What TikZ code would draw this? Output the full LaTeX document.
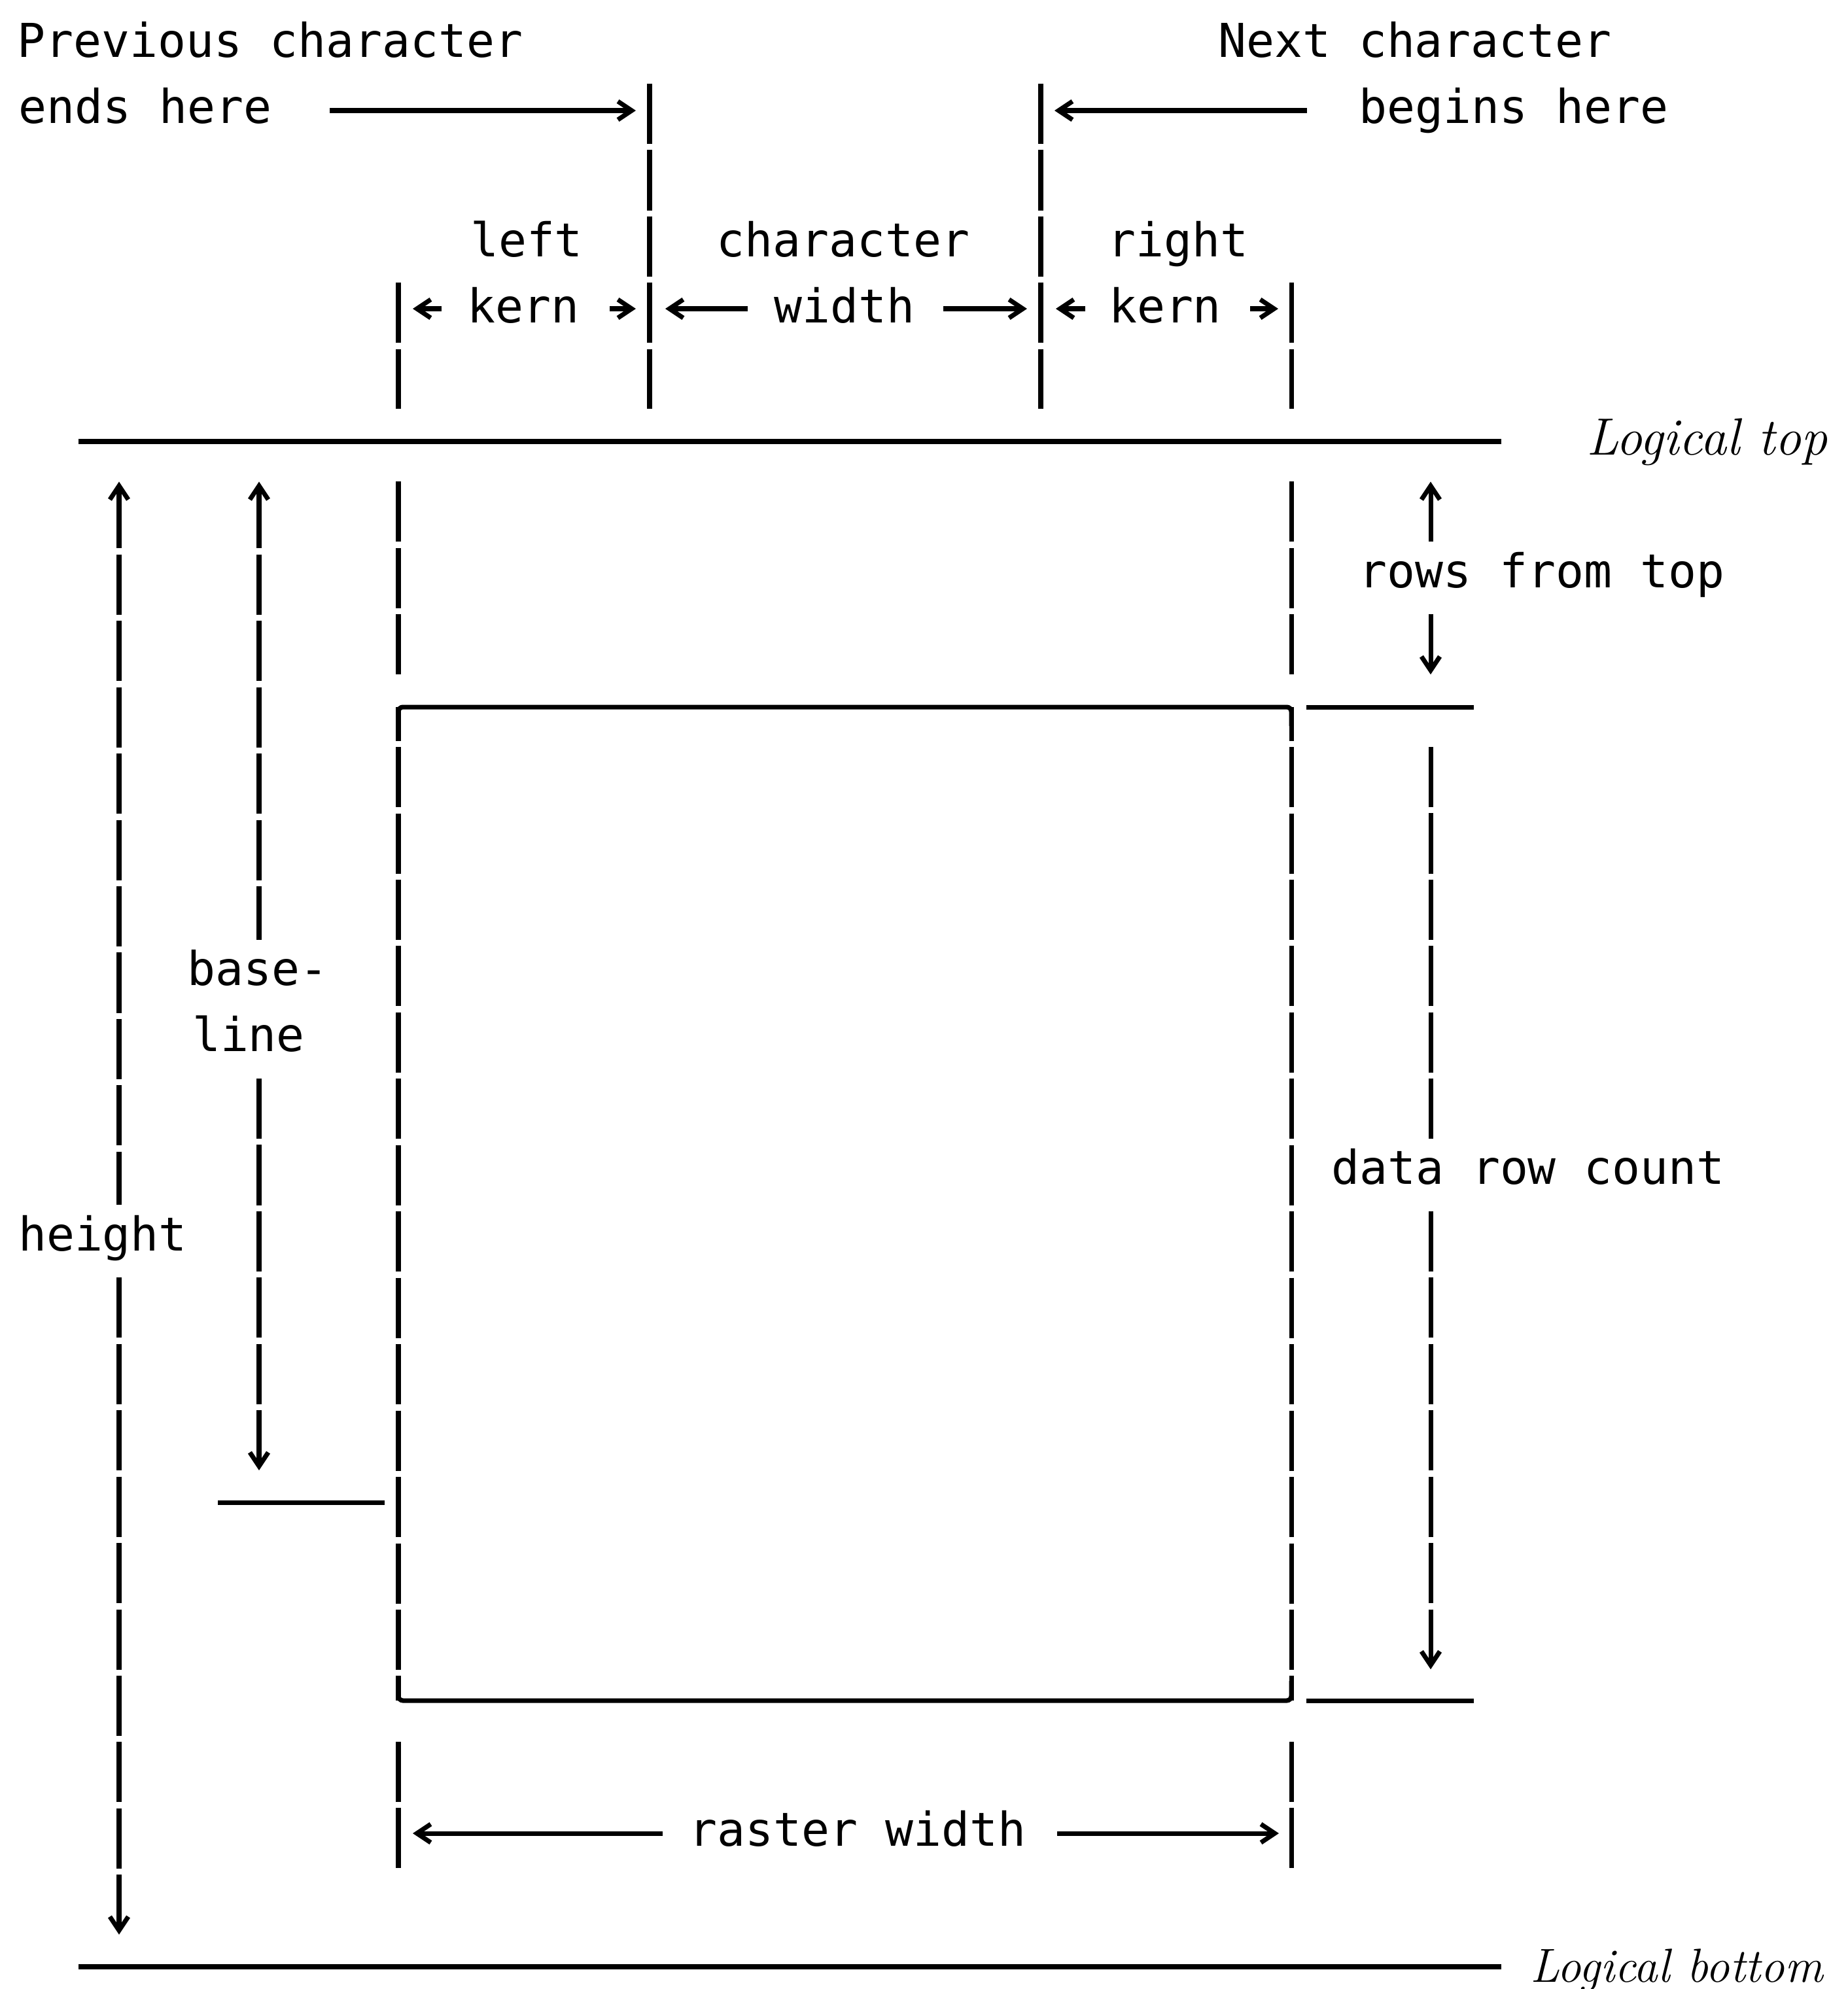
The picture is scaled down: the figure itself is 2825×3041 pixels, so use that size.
\documentclass[tikz,border=0pt]{standalone}
\usepackage{fontspec}
\newfontfamily\plotfont{DejaVu Sans Mono}
\usetikzlibrary{arrows.meta}

\begin{document}
\begin{tikzpicture}[x=0.01cm, y=-0.01cm, line width=2pt, >={Straight Barb[length=6pt,width=8pt]}]
        % Styles
        \tikzstyle{lbl} = [font=\plotfont\fontsize{20.3}{24}\selectfont, inner sep=0pt, anchor=base]
        \tikzstyle{ital} = [font=\fontsize{22.8}{27}\selectfont\itshape, inner sep=0pt, anchor=base west]
        \tikzstyle{dimdash} = [dash pattern=on 0.92cm off 0.094cm]
        \tikzstyle{logline} = [line width=2.3pt]

        \useasboundingbox (0,0) rectangle (2825,3041);

        % --- Labels ---
        \node [lbl] (prev1) at (413,87) {Previous character};
        \node [lbl] (prev2) at (222,188) {ends here};
        \node [lbl] (next1) at (2163,87) {Next character};
        \node [lbl] (next2) at (2314,188) {begins here};
        \node [lbl] (lk1) at (805,392) {left};
        \node [lbl] (lk2) at (800,493) {kern};
        \node [lbl] (cw1) at (1289,392) {character};
        \node [lbl] (cw2) at (1291,493) {width};
        \node [lbl] (rk1) at (1801,392) {right};
        \node [lbl] (rk2) at (1781,493) {kern};
        \node [lbl] (rft) at (2357,898) {rows from top};
        \node [lbl] (drc) at (2336,1810) {data row count};
        \node [lbl] (ht) at (157,1912) {height};
        \node [lbl] (bl1) at (394,1506) {base-};
        \node [lbl] (bl2) at (380,1607) {line};
        \node [lbl] (rw) at (1311,2822) {raster width};
        \node [ital] (ltop) at (2422,695) {Logical top};
        \node [ital, font=\fontsize{20.8}{25}\selectfont\itshape] (lbot) at (2336,3030) {Logical bottom};

        % --- Logical top and bottom ---
        \coordinate (lt0) at (120,675);
        \coordinate (lt1) at (2295,675);
        \coordinate (lb0) at (120,3007);
        \coordinate (lb1) at (2295,3007);
        \draw [logline] (lt0) -- (lt1);
        \draw [logline] (lb0) -- (lb1);

        % --- Character cell edges ---
        \foreach \x in {993,1591}
            \draw [dimdash] (\x,128) -- (\x,625);
        \foreach \x in {609,1974} {
            \draw [dimdash] (\x,432.2) -- (\x,625);
            \draw [dimdash] (\x,736.4) -- (\x,1031);
            \draw [dimdash] (\x,2663) -- (\x,2856.4);
        }

        % --- Raster box ---
        \coordinate (box0) at (609,1081);
        \coordinate (box1) at (1974,2600);
        \draw [rounded corners=2pt] (609,1110) -- (box0) -- (1974,1081) -- (1974,1110);
        \draw [rounded corners=2pt] (609,2570) -- (609,2600) -- (box1) -- (1974,2570);
        \draw [dimdash, dash phase=0.404cm] (box0) -- (609,2600);
        \draw [dimdash, dash phase=0.404cm] (1974,1081) -- (box1);

        % Tick marks
        \coordinate (bt0) at (333,2297);
        \coordinate (bt1) at (588,2297);
        \coordinate (tt0) at (1997,1081);
        \coordinate (tt1) at (2253,1081);
        \coordinate (bb0) at (1997,2600);
        \coordinate (bb1) at (2253,2600);
        \draw (bt0) -- (bt1);
        \draw (tt0) -- (tt1);
        \draw (bb0) -- (bb1);

        % --- Top arrows ---
        \coordinate (pe0) at (504,169);
        \coordinate (pe1) at (972,169);
        \coordinate (nb0) at (1998,169);
        \coordinate (nb1) at (1612,169);
        \draw [->] (pe0) -- (pe1);
        \draw [->] (nb0) -- (nb1);

        % Kern and width arrows
        \coordinate (lkL) at (631,472);
        \coordinate (lkR) at (972,472);
        \coordinate (cwL) at (1017,472);
        \coordinate (cwR) at (1570,472);
        \coordinate (rkL) at (1614,472);
        \coordinate (rkR) at (1954,472);
        \draw [->] (675,472) -- (lkL);
        \draw [->] (932,472) -- (lkR);
        \draw [->] (1143,472) -- (cwL);
        \draw [->] (1442,472) -- (cwR);
        \draw [->] (1659,472) -- (rkL);
        \draw [->] (1911,472) -- (rkR);

        % --- Vertical dimensions ---
        \coordinate (htT) at (182,736.4);
        \coordinate (htB) at (182,2957.8);
        \draw [dimdash, <-] (htT) -- (182,1842.4);
        \draw [dimdash, ->] (182,1953.2) -- (htB);

        \coordinate (blT) at (396,736.4);
        \coordinate (blB) at (396,2248);
        \draw [dimdash, <-] (blT) -- (396,1436.8);
        \draw [dimdash, ->] (396,1649) -- (blB);

        \coordinate (rfT) at (2187,736.4);
        \coordinate (rfB) at (2187,1031.2);
        \draw [<-] (rfT) -- (2187,828.4);
        \draw [->] (2187,939.2) -- (rfB);

        \coordinate (drT) at (2187,1142);
        \coordinate (drB) at (2187,2552.2);
        \draw [dimdash] (drT) -- (2187,1741);
        \draw [dimdash, ->] (2187,1851.8) -- (drB);

        % --- Raster width ---
        \coordinate (rwL) at (631,2803);
        \coordinate (rwR) at (1955,2803);
        \draw [->] (1013,2803) -- (rwL);
        \draw [->] (1616,2803) -- (rwR);

\end{tikzpicture}
\end{document}
